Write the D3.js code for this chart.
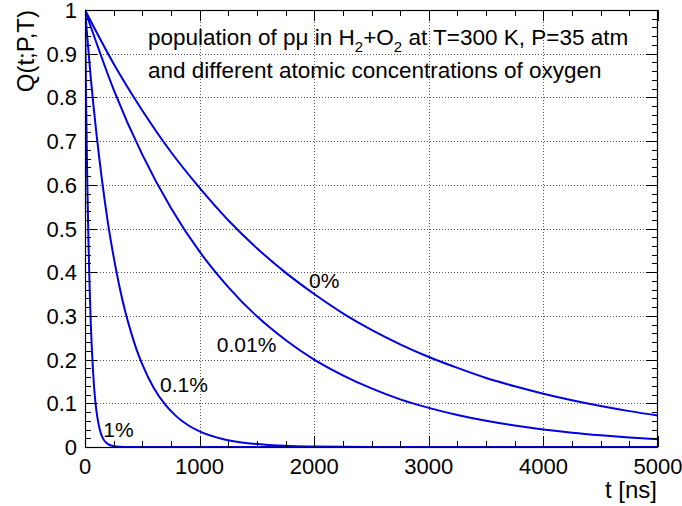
<!DOCTYPE html>
<html>
<head>
<meta charset="utf-8">
<script src="https://cdn.jsdelivr.net/npm/d3@7"></script>
<style>
  html, body { margin: 0; padding: 0; background: #fff; }
  svg { display: block; }
  text { font-family: "Liberation Sans", Arial, Helvetica, sans-serif; fill: #000; }
</style>
</head>
<body>
<svg id="chart" width="682" height="506"></svg>
<script>
// Survival of pμ atoms, Q(t;P,T), for several oxygen concentrations
const tFine = [0, 10, 20, 30, 40, 50, 60, 70, 80, 90, 100, 120, 140, 160, 180, 200, 250, 300, 400, 1000, 5000];
const q1pct = [1, 0.779, 0.607, 0.472, 0.368, 0.287, 0.223, 0.174, 0.135, 0.105, 0.082, 0.050, 0.030, 0.018, 0.011, 0.0067, 0.0019, 0.0006, 0, 0, 0];

const tMid = [0, 50, 100, 150, 200, 250, 300, 350, 400, 450, 500, 600, 700, 800, 900, 1000, 1200, 1400, 1600, 1800, 2000, 2500, 3000, 4000, 5000];
const q01pct = [1, 0.846, 0.717, 0.607, 0.513, 0.435, 0.368, 0.311, 0.264, 0.223, 0.189, 0.135, 0.097, 0.0695, 0.0498, 0.0357, 0.0183, 0.0094, 0.0048, 0.0025, 0.0013, 0.0002, 0, 0, 0];

const tCoarse = [0, 250, 500, 750, 1000, 1250, 1500, 1750, 2000, 2250, 2500, 2750, 3000, 3250, 3500, 3750, 4000, 4250, 4500, 4750, 5000];
const q001pct = [1, 0.818, 0.669, 0.547, 0.447, 0.366, 0.299, 0.245, 0.200, 0.164, 0.134, 0.109, 0.0895, 0.0732, 0.0599, 0.0490, 0.0400, 0.0327, 0.0268, 0.0219, 0.0179];
const q0pct = [1, 0.877, 0.770, 0.675, 0.593, 0.519, 0.455, 0.399, 0.350, 0.306, 0.268, 0.235, 0.206, 0.181, 0.158, 0.139, 0.122, 0.107, 0.0937, 0.0821, 0.0720];

const seriesNames = ["0%", "0.01%", "0.1%", "1%"];
// label anchor points in data units (t, Q)
const labelT = [1955, 1150, 655, 160];
const labelQ = [0.364, 0.217, 0.126, 0.023];

const xTicks = [0, 1000, 2000, 3000, 4000, 5000];
const yTicks = [0, 0.1, 0.2, 0.3, 0.4, 0.5, 0.6, 0.7, 0.8, 0.9, 1];

const series = [
  { t: tCoarse, q: q0pct },
  { t: tCoarse, q: q001pct },
  { t: tMid, q: q01pct },
  { t: tFine, q: q1pct }
];

const svg = d3.select("#chart");
const m = { left: 85, right: 682 - 658, top: 10, bottom: 506 - 447 };
const W = 682 - m.left - m.right, H = 506 - m.top - m.bottom;

const x = d3.scaleLinear().domain([0, 5000]).range([m.left, m.left + W]);
const y = d3.scaleLinear().domain([0, 1]).range([m.top + H, m.top]);

const g = svg.append("g");

// dotted grid at major ticks
g.append("g").selectAll("line").data(xTicks.slice(1, -1)).join("line")
  .attr("x1", d => Math.round(x(d)) + 0.5).attr("x2", d => Math.round(x(d)) + 0.5)
  .attr("y1", m.top).attr("y2", m.top + H)
  .attr("stroke", "#555").attr("stroke-width", 1).attr("stroke-dasharray", "1,2");
g.append("g").selectAll("line").data(yTicks.slice(1, -1)).join("line")
  .attr("y1", d => Math.round(y(d)) + 0.5).attr("y2", d => Math.round(y(d)) + 0.5)
  .attr("x1", m.left).attr("x2", m.left + W)
  .attr("stroke", "#555").attr("stroke-width", 1).attr("stroke-dasharray", "1,2");

// curves
const line = d3.line().x(d => x(d[0])).y(d => y(d[1])).curve(d3.curveMonotoneX);
svg.append("clipPath").attr("id", "plotclip").append("rect")
  .attr("x", m.left).attr("y", m.top - 2).attr("width", W).attr("height", H + 2);
g.append("g").attr("clip-path", "url(#plotclip)").selectAll("path").data(series).join("path")
  .attr("d", s => line(s.t.map((t, i) => [t, s.q[i]])))
  .attr("fill", "none").attr("stroke", "#0000e0").attr("stroke-width", 2);

// curve labels
g.append("g").selectAll("text").data(seriesNames).join("text")
  .attr("x", (d, i) => x(labelT[i]))
  .attr("y", (d, i) => y(labelQ[i]))
  .attr("font-size", 21)
  .text(d => d);

// axes with inward ticks, mirrored on top and right
const minorX = d3.range(0, 5001, 250);
const minorY = d3.range(0, 1.0001, 0.02);
const axisCol = "#000";

function tickMarks(sel, vals, scale, orient, len) {
  sel.selectAll(null).data(vals).join("line")
    .each(function (d) {
      const l = d3.select(this);
      const p = Math.round(scale(d)) + 0.5;
      if (orient === "bottom") l.attr("x1", p).attr("x2", p).attr("y1", m.top + H).attr("y2", m.top + H - len);
      if (orient === "top") l.attr("x1", p).attr("x2", p).attr("y1", m.top).attr("y2", m.top + len);
      if (orient === "left") l.attr("y1", p).attr("y2", p).attr("x1", m.left).attr("x2", m.left + len);
      if (orient === "right") l.attr("y1", p).attr("y2", p).attr("x1", m.left + W).attr("x2", m.left + W - len);
    })
    .attr("stroke", axisCol).attr("stroke-width", 1);
}
const ticks = g.append("g");
tickMarks(ticks, minorX, x, "bottom", 6);
tickMarks(ticks, xTicks, x, "bottom", 11);
tickMarks(ticks, minorX, x, "top", 6);
tickMarks(ticks, xTicks, x, "top", 11);
tickMarks(ticks, minorY, y, "left", 6);
tickMarks(ticks, yTicks, y, "left", 12);
tickMarks(ticks, minorY, y, "right", 6);
tickMarks(ticks, yTicks, y, "right", 12);

// frame
g.append("rect").attr("x", m.left + 0.5).attr("y", m.top + 0.5)
  .attr("width", W - 1).attr("height", H)
  .attr("fill", "none").attr("stroke", axisCol).attr("stroke-width", 1.2);

// tick labels
g.append("g").selectAll("text").data(xTicks).join("text")
  .attr("x", d => x(d)).attr("y", 474)
  .attr("text-anchor", "middle").attr("font-size", 22)
  .text(d3.format("d"));
g.append("g").selectAll("text").data(yTicks).join("text")
  .attr("x", m.left - 8).attr("y", d => y(d) + 8)
  .attr("text-anchor", "end").attr("font-size", 22)
  .text(d => d === 0 || d === 1 ? d3.format("d")(d) : d3.format(".1f")(d));

// axis titles
g.append("text").attr("x", 657).attr("y", 498).attr("text-anchor", "end")
  .attr("font-size", 24).text("t [ns]");
g.append("text").attr("transform", "translate(34,10) rotate(-90)")
  .attr("text-anchor", "end").attr("font-size", 24).text("Q(t;P,T)");

// caption inside the frame
const cap = g.append("g").attr("font-size", 22.5);
const l1 = cap.append("text").attr("x", 148).attr("y", 45);
l1.append("tspan").text("population of pμ in H");
l1.append("tspan").attr("dy", 7).attr("font-size", 15).text("2");
l1.append("tspan").attr("dy", -7).text("+O");
l1.append("tspan").attr("dy", 7).attr("font-size", 15).text("2");
l1.append("tspan").attr("dy", -7).text(" at T=300 K, P=35 atm");
cap.append("text").attr("x", 148).attr("y", 78).text("and different atomic concentrations of oxygen");
</script>
</body>
</html>
